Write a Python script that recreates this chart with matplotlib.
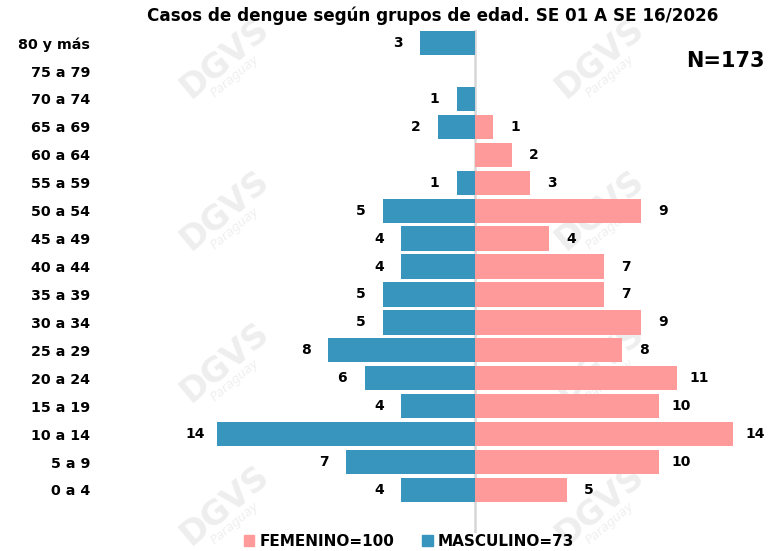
import matplotlib.pyplot as plt
from matplotlib.patches import Patch

# grupos de edad (de abajo hacia arriba)
grupos = ["0 a 4", "5 a 9", "10 a 14", "15 a 19", "20 a 24", "25 a 29", "30 a 34",
          "35 a 39", "40 a 44", "45 a 49", "50 a 54", "55 a 59", "60 a 64",
          "65 a 69", "70 a 74", "75 a 79", "80 y más"]
masculino = [4, 7, 14, 4, 6, 8, 5, 5, 4, 4, 5, 1, 0, 2, 1, 0, 3]
femenino = [5, 10, 14, 10, 11, 8, 9, 7, 7, 4, 9, 3, 2, 1, 0, 0, 0]

titulo = "Casos de dengue según grupos de edad. SE 01 A SE 16/2026"
total = "N=173"
leyenda_fem = "FEMENINO=100"
leyenda_masc = "MASCULINO=73"

azul = "#3795be"
rosa = "#ff9a9a"

plt.rcParams["font.family"] = "DejaVu Sans"

W, H = 769, 551
fig = plt.figure(figsize=(W / 100, H / 100), dpi=100)

# marca de agua (detras de todo)
for cx in (225, 600):
    for cy in (58, 210, 362, 505):
        fig.text(cx / W, 1 - cy / H, "DGVS", fontsize=24, fontweight="bold",
                 color="#eeeeee", rotation=40, ha="center", va="center", zorder=-2)
        fig.text((cx + 10) / W, 1 - (cy + 18) / H, "Paraguay", fontsize=9,
                 fontstyle="italic", color="#efefef", rotation=40,
                 ha="center", va="center", zorder=-2)

# ejes: x=0 en 475 px, 18.4 px por caso; filas cada 27.94 px
x0 = 475
escala = 18.4
ax_left, ax_right = 100, 769
ax = fig.add_axes([ax_left / W, 1 - 533 / H, (ax_right - ax_left) / W, (533 - 30) / H])
ax.set_facecolor("none")
ax.set_xlim((ax_left - x0) / escala, (ax_right - x0) / escala)
ax.set_ylim(-1.54, 16.47)

y = list(range(len(grupos)))
ax.barh(y, [-v for v in masculino], height=0.87, color=azul, zorder=2)
ax.barh(y, femenino, height=0.87, color=rosa, zorder=2)
ax.axvline(0, color="#d6d6d6", linewidth=1.8, zorder=1)

for i, (m, f) in enumerate(zip(masculino, femenino)):
    if m:
        ax.annotate(str(m), (-m, i), xytext=(-16, 0), textcoords="offset points",
                    ha="center", va="center", fontsize=10, fontweight="bold")
    if f:
        ax.annotate(str(f), (f, i), xytext=(16, 0), textcoords="offset points",
                    ha="center", va="center", fontsize=10, fontweight="bold")

ax.set_yticks(y)
ax.set_yticklabels(grupos, fontsize=10.3, fontweight="bold")
ax.tick_params(axis="y", length=0, pad=7)
ax.set_xticks([])
for s in ax.spines.values():
    s.set_visible(False)

fig.text(433 / W, 1 - 16 / H, titulo, fontsize=12.1, fontweight="bold",
         ha="center", va="center")
fig.text(765 / W, 1 - 61 / H, total, fontsize=15, fontweight="bold",
         ha="right", va="center")

handles = [Patch(color=rosa, label=leyenda_fem), Patch(color=azul, label=leyenda_masc)]
fig.legend(handles=handles, loc="center", bbox_to_anchor=(409 / W, 1 - 541 / H),
           ncol=2, frameon=False, prop={"size": 11, "weight": "bold"},
           handlelength=0.7, handleheight=0.7, handletextpad=0.35,
           columnspacing=1.8, borderpad=0)

fig.savefig("out.png", dpi=100)
